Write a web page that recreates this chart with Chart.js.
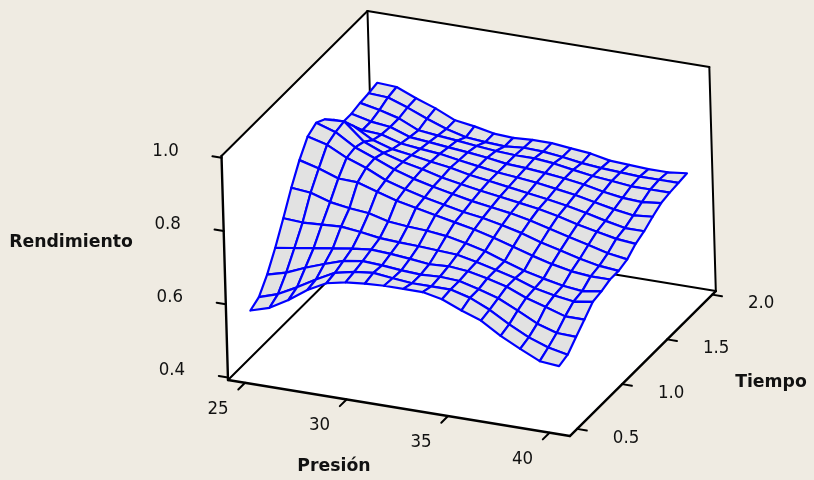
<!DOCTYPE html>
<html>
<head>
<meta charset="utf-8">
<style>
html,body{margin:0;padding:0;background:#efebe2;}
canvas{display:block;}
</style>
<script src="https://cdn.jsdelivr.net/npm/chart.js@4/dist/chart.umd.js"></script>
</head>
<body>
<canvas id="c" width="814" height="480"></canvas>
<script>
const presion = [25,25.95,26.9,27.85,28.8,29.75,30.7,31.65,32.6,33.55,34.5,35.45,36.4,37.35,38.3,39.25,40.2];
const tiempo = [0.5,0.596,0.692,0.788,0.884,0.98,1.076,1.172,1.268,1.364,1.46,1.556,1.652,1.748,1.844,1.94];
const t00 = [.571,.587,.617,.653,.680,.691,.696,.699,.699,.699,.688,.666,.647,.614,.587,.562,.557];
const t01 = [.584,.601,.628,.658,.685,.696,.702,.696,.691,.691,.691,.677,.653,.622,.595,.576,.565];
const t02 = [.622,.636,.658,.677,.694,.702,.699,.694,.691,.694,.691,.677,.661,.636,.609,.592,.590];
const t03 = [.672,.680,.688,.696,.704,.710,.707,.702,.696,.699,.694,.683,.669,.647,.631,.614,.614];
const t04 = [.729,.726,.729,.732,.726,.718,.715,.713,.710,.707,.696,.683,.669,.650,.639,.631,.639];
const t05 = [.789,.784,.767,.759,.754,.740,.735,.732,.726,.715,.702,.683,.666,.653,.642,.636,.644];
const t06 = [.841,.827,.808,.806,.789,.773,.762,.751,.740,.729,.715,.699,.683,.669,.658,.653,.653];
const t07 = [.882,.868,.841,.822,.797,.781,.767,.756,.745,.737,.726,.713,.696,.683,.669,.658,.653];
const t08 = [.896,.879,.846,.825,.803,.786,.773,.762,.751,.743,.735,.724,.710,.696,.683,.669,.661];
const t09 = [.882,.885,.838,.816,.800,.789,.775,.765,.756,.748,.740,.732,.721,.707,.696,.685,.680];
const t10 = [.857,.849,.819,.803,.795,.786,.778,.767,.759,.751,.743,.735,.726,.715,.702,.691,.691];
const t11 = [.827,.814,.811,.795,.789,.784,.775,.767,.759,.754,.748,.740,.732,.721,.710,.702,.707];
const t12 = [.827,.814,.808,.789,.784,.778,.773,.767,.759,.756,.751,.745,.737,.726,.718,.715,.721];
const t13 = [.833,.822,.808,.784,.778,.773,.767,.762,.759,.759,.754,.745,.737,.732,.726,.726,.726];
const t14 = [.836,.833,.814,.792,.773,.759,.754,.751,.756,.754,.748,.740,.735,.732,.729,.729,.729];
const t15 = [.841,.838,.816,.797,.773,.765,.754,.751,.754,.754,.748,.743,.732,.729,.726,.726,.732];
const rendimiento = [t00,t01,t02,t03,t04,t05,t06,t07,t08,t09,t10,t11,t12,t13,t14,t15];
const presionTicks = [25,30,35,40];
const tiempoTicks = [0.5,1.0,1.5,2.0];
const rendimientoTicks = [0.4,0.6,0.8,1.0];

// Projection of the 3-D box
const Pmin=24.16, Pmax=41.0, Tmin=0.42, Tmax=2.04, Zmin=0.393, Zmax=1.005;
const O={x:228,y:380};
const proj=(p,t,z)=>({
  x:O.x+(p-Pmin)*20.3+(t-Tmin)*90.1-(z-Zmin)*10.6,
  y:O.y+(p-Pmin)*3.327-(t-Tmin)*89.5-(z-Zmin)*366
});
const seg=(pts,w,extra)=>Object.assign({type:'scatter',showLine:true,data:pts,borderColor:'#000',borderWidth:w,pointRadius:0,tension:0,fill:false,borderCapStyle:'round',clip:false},extra||{});

const far=[]; // drawn first
// white walls
const wall=(a,b,c,d)=>far.push(seg([a,b,c,d,a].map(q=>proj(q[0],q[1],q[2])),0,{fill:'shape',backgroundColor:'#ffffff',borderColor:'#ffffff'}));
wall([Pmin,Tmin,Zmin],[Pmin,Tmax,Zmin],[Pmin,Tmax,Zmax],[Pmin,Tmin,Zmax]);
wall([Pmin,Tmax,Zmin],[Pmax,Tmax,Zmin],[Pmax,Tmax,Zmax],[Pmin,Tmax,Zmax]);
wall([Pmin,Tmin,Zmin],[Pmax,Tmin,Zmin],[Pmax,Tmax,Zmin],[Pmin,Tmax,Zmin]);
// box edges
const edge=(a,b,w)=>far.push(seg([proj(a[0],a[1],a[2]),proj(b[0],b[1],b[2])],w));
edge([Pmin,Tmax,Zmin],[Pmin,Tmax,Zmax],2);
edge([Pmin,Tmin,Zmax],[Pmin,Tmax,Zmax],2);
edge([Pmin,Tmax,Zmax],[Pmax,Tmax,Zmax],2);
edge([Pmax,Tmax,Zmax],[Pmax,Tmax,Zmin],2);
edge([Pmin,Tmin,Zmin],[Pmin,Tmax,Zmin],2);
edge([Pmin,Tmax,Zmin],[Pmax,Tmax,Zmin],2);
edge([Pmin,Tmin,Zmin],[Pmin,Tmin,Zmax],2.4);
edge([Pmin,Tmin,Zmin],[Pmax,Tmin,Zmin],2.4);
edge([Pmax,Tmin,Zmin],[Pmax,Tmax,Zmin],2.4);
// ticks
rendimientoTicks.forEach(z=>edge([Pmin,Tmin,z],[Pmin-0.45,Tmin,z],2));
presionTicks.forEach(p=>edge([p,Tmin,Zmin],[p,Tmin-0.075,Zmin],2));
tiempoTicks.forEach(t=>edge([Pmax,t,Zmin],[Pmax+0.48,t,Zmin],2));
// surface quads, far to near
for(let i=tiempo.length-2;i>=0;i--){
  for(let j=0;j<presion.length-1;j++){
    const c=[[j,i],[j+1,i],[j+1,i+1],[j,i+1],[j,i]];
    far.push(seg(c.map(q=>proj(presion[q[0]],tiempo[q[1]],rendimiento[q[1]][q[0]])),2.2,{fill:'shape',backgroundColor:'#e2e2e2',borderColor:'#0000ff',borderJoinStyle:'round'}));
  }
}
const datasets=far.slice().reverse(); // Chart.js paints the first dataset last

const num='"DejaVu Sans Condensed","DejaVu Sans",sans-serif';
const textPlugin={id:'labels3d',afterDraw(chart){
  const ctx=chart.ctx,sx=chart.scales.x,sy=chart.scales.y;
  const put=(q,dx,dy,s)=>ctx.fillText(s,sx.getPixelForValue(q.x)+dx,sy.getPixelForValue(q.y)+dy);
  ctx.save();
  ctx.fillStyle='#111';ctx.textAlign='center';ctx.textBaseline='middle';
  ctx.font='18.5px '+num;
  rendimientoTicks.forEach(z=>put(proj(Pmin,Tmin,z),-56,-7,z.toFixed(1)));
  presionTicks.forEach(p=>put(proj(p,Tmin,Zmin),-27,26,String(p)));
  tiempoTicks.forEach(t=>put(proj(Pmax,t,Zmin),49,9,t.toFixed(1)));
  ctx.font='bold 17.3px "DejaVu Sans",sans-serif';
  ctx.fillText('Rendimiento',71,243);
  ctx.fillText('Presión',334,467);
  ctx.fillText('Tiempo',771,383);
  ctx.restore();
}};

new Chart(document.getElementById('c'),{
  type:'scatter',
  data:{datasets},
  options:{
    responsive:false,animation:false,
    layout:{padding:0},
    plugins:{legend:{display:false},tooltip:{enabled:false},title:{display:false}},
    scales:{
      x:{type:'linear',min:0,max:814,display:false},
      y:{type:'linear',min:0,max:480,reverse:true,display:false}
    }
  },
  plugins:[textPlugin]
});
</script>
</body>
</html>
